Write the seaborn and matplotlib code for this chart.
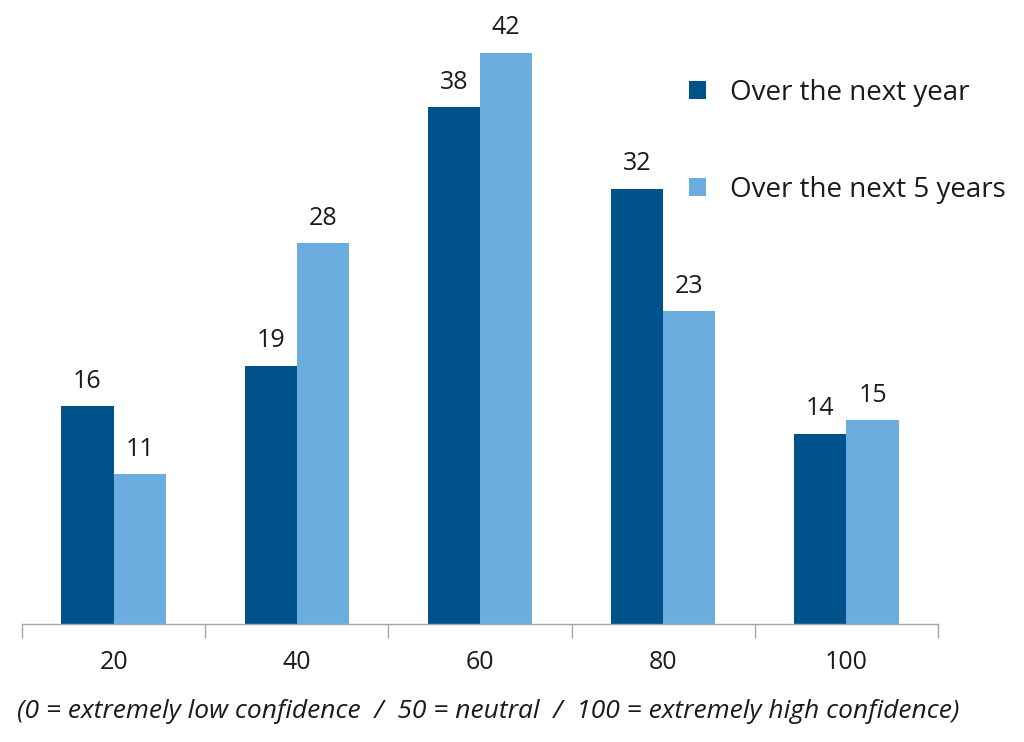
import matplotlib
matplotlib.use("Agg")
import matplotlib.pyplot as plt
import seaborn as sns
import pandas as pd

categories = ["20", "40", "60", "80", "100"]
next_year = [16, 19, 38, 32, 14]
next_5_years = [11, 28, 42, 23, 15]
series_names = ["Over the next year", "Over the next 5 years"]
note = "(0 = extremely low confidence  /  50 = neutral  /  100 = extremely high confidence)"

df = pd.DataFrame({
    "cat": categories * 2,
    "val": next_year + next_5_years,
    "series": [series_names[0]] * 5 + [series_names[1]] * 5,
})

sns.set_theme(style="white")
plt.rcParams['font.family'] = ['Open Sans', 'DejaVu Sans']

W, H = 1024, 742
fig = plt.figure(figsize=(W / 100, H / 100), dpi=100)
ax_top, ax_bot, ax_l, ax_r = 10, 624, 22, 938
ax = fig.add_axes([ax_l / W, (H - ax_bot) / H, (ax_r - ax_l) / W, (ax_bot - ax_top) / H])

colors = ["#00528a", "#6badde"]
sns.barplot(data=df, x="cat", y="val", hue="series", order=categories,
            hue_order=series_names, palette=colors, width=0.57, gap=0,
            saturation=1, ax=ax, edgecolor="none", linewidth=0)

ax.set_ylim(0, 42 * (ax_bot - ax_top) / (ax_bot - 53))
ax.set_xlim(-0.5, len(categories) - 0.5)
for c in ax.containers:
    ax.bar_label(c, padding=9, fontsize=18, color="#1a1a1a")

for s in ["top", "right", "left"]:
    ax.spines[s].set_visible(False)
ax.spines["bottom"].set_color("#a6a6a6")
ax.spines["bottom"].set_linewidth(1)
ax.set_yticks([])
ax.set_xlabel("")
ax.set_ylabel("")
ax.set_xticks(range(len(categories)))
ax.set_xticklabels(categories, fontsize=18, color="#1a1a1a")
ax.tick_params(axis="x", which="major", length=0, pad=19)
ax.set_xticks([i - 0.5 for i in range(len(categories) + 1)], minor=True)
ax.tick_params(axis="x", which="minor", length=10, color="#a6a6a6", width=1, direction="out", bottom=True)

leg = ax.legend(loc="upper left", bbox_to_anchor=(678 / W, 1 - 68 / H),
                bbox_transform=fig.transFigure, frameon=False, fontsize=20,
                handlelength=0.62, handleheight=0.62, handletextpad=0.86,
                labelspacing=2.47, borderaxespad=0)
for t in leg.get_texts():
    t.set_color("#1a1a1a")

fig.text(17 / W, 1 - 712 / H, note, fontsize=19, style="italic",
         color="#1a1a1a", va="center", ha="left")

fig.savefig("out.png", dpi=100)
